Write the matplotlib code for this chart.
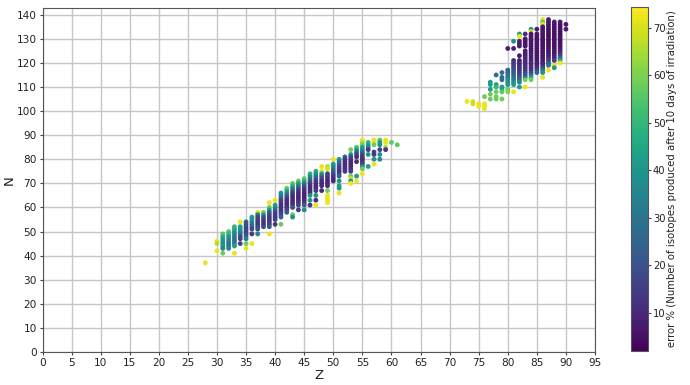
import numpy as np
import matplotlib
matplotlib.use("Agg")
import matplotlib.pyplot as plt

# one row per Z: neutron numbers seen in that column and the colour value of each
z_list = [28, 30, 31, 32, 33, 34, 35, 36, 37, 38, 39, 40, 41, 42, 43, 44, 45, 46, 47, 48,
          49, 50, 51, 52, 53, 54, 55, 56, 57, 58, 59, 60, 61,
          73, 74, 75, 76, 77, 78, 79, 80, 81, 82, 83, 84, 85, 86, 87, 88, 89, 90]

n_by_z = [
    [37],
    [46, 45, 42],
    [49, 48, 47, 46, 45, 44, 43, 41],
    [50, 49, 48, 47, 46, 45, 44, 43],
    [52, 51, 50, 49, 48, 47, 46, 45, 44, 41],
    [54, 52, 51, 50, 49, 48, 47, 45],
    [54, 53, 52, 51, 50, 49, 48, 47, 45, 43],
    [56, 55, 54, 53, 52, 51, 49, 45],
    [58, 57, 56, 55, 54, 53, 52, 51, 49],
    [58, 57, 56, 55, 54, 53, 52],
    [62, 60, 59, 58, 57, 56, 55, 54, 53, 52, 49],
    [63, 61, 60, 59, 58, 57, 56, 55, 53],
    [66, 65, 64, 63, 62, 61, 60, 59, 58, 57, 56, 53],
    [68, 67, 66, 65, 64, 63, 62, 61, 60, 59, 58],
    [70, 69, 68, 67, 66, 65, 64, 63, 62, 61, 60, 57, 56],
    [71, 70, 69, 68, 67, 66, 65, 64, 63, 62, 61, 59],
    [72, 71, 70, 69, 68, 67, 66, 65, 64, 63, 62, 61, 59],
    [74, 73, 72, 71, 70, 69, 68, 67, 66, 65, 63, 61],
    [75, 74, 73, 72, 71, 70, 69, 68, 67, 65, 63, 61],
    [77, 75, 74, 73, 72, 71, 70, 69, 67],
    [77, 76, 74, 73, 72, 71, 70, 69, 67, 65, 64, 63, 62],
    [80, 78, 77, 76, 75, 74, 73, 72, 71],
    [80, 79, 78, 77, 76, 75, 74, 73, 71, 69, 68, 66],
    [81, 80, 79, 78, 77, 76, 75],
    [84, 82, 81, 80, 79, 78, 77, 76, 75, 73, 72, 71, 70],
    [85, 84, 83, 82, 81, 79, 73, 71],
    [88, 87, 86, 85, 84, 83, 82, 81, 80, 79, 78, 77, 76, 74],
    [87, 86, 85, 84, 82, 77],
    [88, 87, 86, 83, 82, 80, 78],
    [88, 87, 86, 84, 82, 80],
    [88, 87, 85, 84],
    [87],
    [86],
    [104],
    [104, 103],
    [103, 102],
    [106, 103, 102, 101],
    [112, 111, 109, 107, 105],
    [115, 111, 110, 108, 106, 105],
    [116, 114, 113, 110, 109, 108, 105],
    [126, 117, 116, 115, 114, 113, 112, 111, 109, 108],
    [129, 126, 121, 120, 119, 118, 117, 116, 115, 114, 113, 112, 111, 108],
    [132, 131, 129, 128, 127, 123, 121, 120, 119, 118, 117, 116, 115, 114, 113, 112, 110],
    [132, 130, 129, 128, 127, 125, 124, 123, 122, 121, 120, 119, 118, 117, 116, 115, 114, 113, 110],
    [134, 133, 132, 131, 130, 129, 128, 127, 126, 125, 124, 123, 122, 121, 120, 119, 118, 117, 116, 115, 114, 113],
    [134, 132, 131, 130, 129, 128, 127, 126, 125, 124, 123, 122, 121, 120, 119, 118, 117, 116],
    [138, 137, 136, 135, 134, 133, 132, 131, 130, 129, 128, 127, 126, 125, 124, 123, 122, 121, 120, 119, 118, 117, 116, 114],
    [138, 137, 136, 135, 134, 133, 132, 131, 130, 129, 128, 127, 126, 125, 124, 123, 122, 121, 120, 119, 117],
    [137, 136, 135, 134, 133, 132, 131, 130, 129, 128, 127, 126, 125, 124, 123, 122, 121, 119, 118],
    [137, 136, 135, 134, 133, 132, 131, 130, 129, 128, 127, 126, 125, 124, 123, 122, 121, 120],
    [136, 134],
]

err_by_z = [
    [72],
    [72, 66, 72],
    [56, 50, 42, 40, 38, 40, 35, 58],
    [55, 50, 42, 38, 35, 30, 30, 35],
    [50, 47, 40, 35, 32, 30, 28, 30, 42, 72],
    [72, 42, 40, 36, 30, 20, 16, 16],
    [22, 20, 18, 16, 16, 18, 22, 32, 58, 72],
    [42, 40, 36, 30, 24, 18, 14, 72],
    [72, 30, 18, 16, 14, 14, 16, 20, 35],
    [60, 42, 22, 16, 14, 14, 18],
    [72, 58, 42, 24, 18, 15, 14, 14, 16, 22, 72],
    [72, 42, 36, 28, 18, 14, 13, 14, 14],
    [40, 34, 26, 18, 14, 12, 12, 12, 14, 18, 24, 58],
    [58, 48, 36, 24, 16, 12, 10, 10, 12, 16, 22],
    [58, 48, 36, 24, 16, 12, 10, 10, 10, 12, 20, 58, 38],
    [58, 44, 32, 22, 14, 11, 10, 9, 10, 12, 16, 14],
    [58, 48, 34, 22, 15, 12, 10, 9, 9, 10, 14, 22, 38],
    [50, 40, 32, 24, 16, 12, 10, 10, 12, 38, 40, 14],
    [46, 40, 30, 22, 15, 12, 10, 10, 14, 38, 12, 72],
    [72, 72, 42, 28, 18, 12, 10, 10, 10],
    [66, 70, 16, 14, 12, 10, 10, 12, 58, 72, 72, 72, 72],
    [72, 42, 36, 30, 24, 18, 14, 12, 10],
    [42, 30, 24, 18, 14, 12, 16, 24, 38, 42, 40, 72],
    [24, 14, 12, 11, 11, 12, 14],
    [58, 42, 18, 14, 11, 10, 10, 12, 14, 58, 70, 42, 72],
    [56, 42, 28, 16, 12, 12, 42, 72],
    [72, 66, 58, 44, 36, 28, 18, 14, 12, 12, 16, 38, 58, 72],
    [50, 42, 34, 14, 40, 42],
    [72, 72, 58, 14, 14, 40, 72],
    [56, 42, 38, 16, 38, 36],
    [72, 72, 66, 14],
    [56],
    [56],
    [72],
    [70, 68],
    [72, 72],
    [58, 72, 72, 72],
    [42, 42, 42, 58, 58],
    [28, 42, 50, 58, 58, 58],
    [28, 26, 26, 42, 42, 56, 58],
    [8, 24, 26, 28, 32, 36, 38, 40, 58, 60],
    [38, 8, 12, 14, 16, 18, 20, 22, 24, 28, 32, 36, 42, 72],
    [42, 72, 10, 8, 8, 8, 8, 10, 10, 12, 12, 14, 16, 20, 26, 34, 42],
    [12, 8, 6, 6, 6, 8, 8, 8, 10, 10, 10, 12, 12, 14, 16, 20, 26, 58, 72],
    [42, 70, 6, 6, 6, 6, 6, 6, 6, 6, 8, 8, 8, 8, 10, 10, 10, 12, 16, 24, 42, 58],
    [8, 6, 6, 6, 6, 6, 6, 6, 6, 6, 6, 6, 6, 8, 8, 10, 16, 24],
    [72, 56, 72, 8, 6, 6, 6, 6, 5, 5, 5, 5, 6, 6, 6, 6, 6, 8, 8, 10, 16, 28, 38, 72],
    [8, 6, 6, 5, 5, 5, 5, 5, 5, 5, 5, 5, 6, 6, 6, 8, 10, 14, 20, 28, 72],
    [8, 6, 5, 5, 5, 5, 5, 5, 5, 5, 5, 5, 6, 6, 8, 10, 14, 72, 42],
    [8, 6, 5, 5, 5, 5, 5, 5, 5, 5, 6, 6, 8, 10, 16, 24, 42, 72],
    [8, 8],
]

xticks = list(range(0, 100, 5))
yticks = list(range(0, 150, 10))
cbar_ticks = [10, 20, 30, 40, 50, 60, 70]

z = []
n = []
err = []
for zz, ns, es in zip(z_list, n_by_z, err_by_z):
    for a, b in zip(ns, es):
        z.append(zz)
        n.append(a)
        err.append(b)

fig = plt.figure(figsize=(6.9, 3.85), dpi=100)
ax = fig.add_axes([42.5/690, 1-352/385, (595-42.5)/690, (352-7.5)/385])
sc = ax.scatter(z, n, c=err, cmap="viridis", vmin=1.9, vmax=74.4, s=12, linewidths=0, zorder=3)
ax.set_xlim(0, 95)
ax.set_ylim(0, 143)
ax.set_xticks(xticks)
ax.set_yticks(yticks)
ax.grid(True, color="#c6c6c6", lw=1)
ax.set_axisbelow(True)
ax.tick_params(labelsize=7.6, length=2.5, width=0.8, pad=1.5, color="#444444", labelcolor="#222222")
for s in ax.spines.values():
    s.set_color("#555555")
    s.set_linewidth(0.8)
ax.set_xlabel("Z", fontsize=9.5, labelpad=1, color="#222222")
ax.set_ylabel("N", fontsize=9.5, labelpad=1, color="#222222")

cax = fig.add_axes([630.5/690, 1-351/385, 17/690, 344/385])
cb = fig.colorbar(sc, cax=cax)
cb.set_ticks(cbar_ticks)
cb.ax.tick_params(labelsize=7.2, length=2.5, width=0.8, pad=1.5, color="#444444", labelcolor="#222222")
cb.outline.set_edgecolor("#555555")
cb.outline.set_linewidth(0.8)
cb.set_label("error % (Number of isotopes produced after 10 days of irradiation)", fontsize=7.3, labelpad=1, color="#222222")

fig.savefig("out.png", dpi=100)
